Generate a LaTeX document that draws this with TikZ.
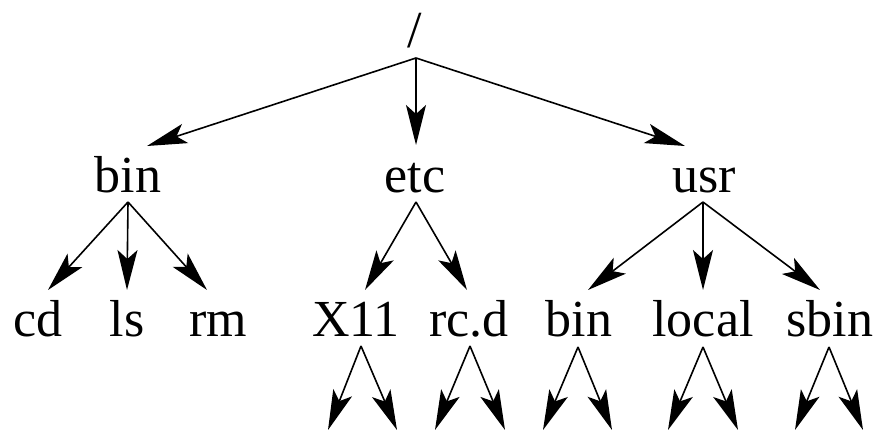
\documentclass[tikz,border=0pt]{standalone}
\usepackage{fontspec}
\setmainfont{Liberation Serif}
\usetikzlibrary{arrows.meta}
\tikzset{
  dirname/.style={inner sep=0pt, anchor=base, font=\fontsize{52}{52}\selectfont},
  link/.style={line width=1.6pt, -{Stealth[length=40pt, width=20pt, inset=9pt]}}
}
\begin{document}
\begin{tikzpicture}[x=1pt, y=-1pt]
\useasboundingbox (0,0) rectangle (878,432);

% directory names
\node[dirname] (root)  at (415,47)  {/};
\node[dirname] (bin)   at (128,192) {bin};
\node[dirname] (etc)   at (415,192) {etc};
\node[dirname] (usr)   at (704,192) {usr};
\node[dirname] (cd)    at (38,336)  {cd};
\node[dirname] (ls)    at (127,336) {ls};
\node[dirname] (rm)    at (218,336) {rm};
\node[dirname] (x11)   at (356,336) {X11};
\node[dirname] (rcd)   at (469,336) {rc.d};
\node[dirname] (ubin)  at (579,336) {bin};
\node[dirname] (local) at (703,336) {local};
\node[dirname] (sbin)  at (830,336) {sbin};

% where links leave and enter each name
\coordinate (root-out)  at (416,58);
\coordinate (bin-in)    at (147,146);
\coordinate (etc-in)    at (416,145);
\coordinate (usr-in)    at (685,146);
\coordinate (bin-out)   at (128,202);
\coordinate (etc-out)   at (416,202);
\coordinate (usr-out)   at (703,202);
\coordinate (cd-in)     at (48,290);
\coordinate (ls-in)     at (127,290);
\coordinate (rm-in)     at (207,290);
\coordinate (x11-in)    at (365,290);
\coordinate (rcd-in)    at (467,290);
\coordinate (ubin-in)   at (588,290);
\coordinate (local-in)  at (703,290);
\coordinate (sbin-in)   at (820,290);
\coordinate (x11-out)   at (361,346);
\coordinate (rcd-out)   at (470,346);
\coordinate (ubin-out)  at (578,347);
\coordinate (local-out) at (703,347);
\coordinate (sbin-out)  at (829,347);

% open subdirectories below the bottom row
\coordinate (x11-a)   at (328,430);
\coordinate (x11-b)   at (397,430);
\coordinate (rcd-a)   at (435,430);
\coordinate (rcd-b)   at (505,430);
\coordinate (ubin-a)  at (543,430);
\coordinate (ubin-b)  at (612,430);
\coordinate (local-a) at (668,430);
\coordinate (local-b) at (738,430);
\coordinate (sbin-a)  at (795,430);
\coordinate (sbin-b)  at (863,430);

% tree links
\draw[link] (root-out) -- (bin-in);
\draw[link] (root-out) -- (etc-in);
\draw[link] (root-out) -- (usr-in);
\draw[link] (bin-out) -- (cd-in);
\draw[link] (bin-out) -- (ls-in);
\draw[link] (bin-out) -- (rm-in);
\draw[link] (etc-out) -- (x11-in);
\draw[link] (etc-out) -- (rcd-in);
\draw[link] (usr-out) -- (ubin-in);
\draw[link] (usr-out) -- (local-in);
\draw[link] (usr-out) -- (sbin-in);
\foreach \d in {x11,rcd,ubin,local,sbin}{
  \draw[link] (\d-out) -- (\d-a);
  \draw[link] (\d-out) -- (\d-b);
}
\end{tikzpicture}
\end{document}
